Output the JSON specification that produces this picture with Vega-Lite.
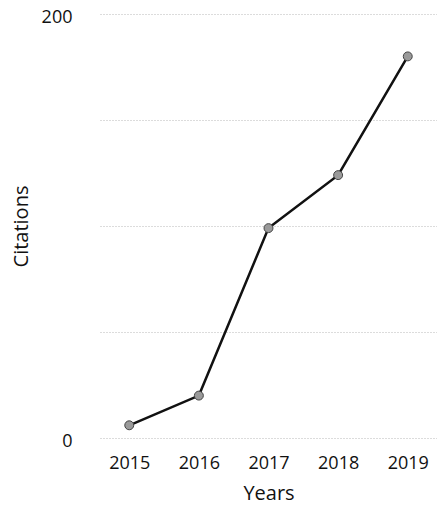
{
  "$schema": "https://vega.github.io/schema/vega-lite/v6.json",
  "autosize": "none",
  "padding": {"left": 100, "top": 14, "right": 0, "bottom": 70},
  "width": 337,
  "height": 424,
  "background": "white",
  "config": {
    "view": {"stroke": null},
    "font": "Open Sans",
    "axis": {
      "labelFont": "Open Sans",
      "titleFont": "Open Sans",
      "labelColor": "#111",
      "titleColor": "#111",
      "labelFontSize": 18,
      "titleFontSize": 20,
      "titleFontWeight": "normal",
      "domain": false,
      "ticks": false,
      "gridColor": "#b8b8b8",
      "gridDash": [1, 2],
      "gridWidth": 1
    }
  },
  "data": {
    "values": [
      {"year": "2015", "citations": 6},
      {"year": "2016", "citations": 20},
      {"year": "2017", "citations": 99},
      {"year": "2018", "citations": 124},
      {"year": "2019", "citations": 180}
    ]
  },
  "encoding": {
    "x": {
      "field": "year",
      "type": "ordinal",
      "scale": {"type": "point", "padding": 0.42},
      "axis": {"title": "Years", "labelAngle": 0, "labelPadding": 16, "titlePadding": 11, "grid": false}
    },
    "y": {
      "field": "citations",
      "type": "quantitative",
      "scale": {"domain": [0, 200], "nice": false},
      "axis": {
        "title": "Citations",
        "values": [0, 50, 100, 150, 200],
        "labelExpr": "datum.value == 0 || datum.value == 200 ? datum.label : ''",
        "labelPadding": 28,
        "labelOffset": 3,
        "titlePadding": 10,
        "grid": true
      }
    }
  },
  "layer": [
    {"mark": {"type": "line", "color": "#111", "strokeWidth": 2.5}},
    {"mark": {"type": "point", "filled": true, "fill": "#9a9a9a", "stroke": "#444", "strokeWidth": 1, "size": 80, "opacity": 1}}
  ]
}
